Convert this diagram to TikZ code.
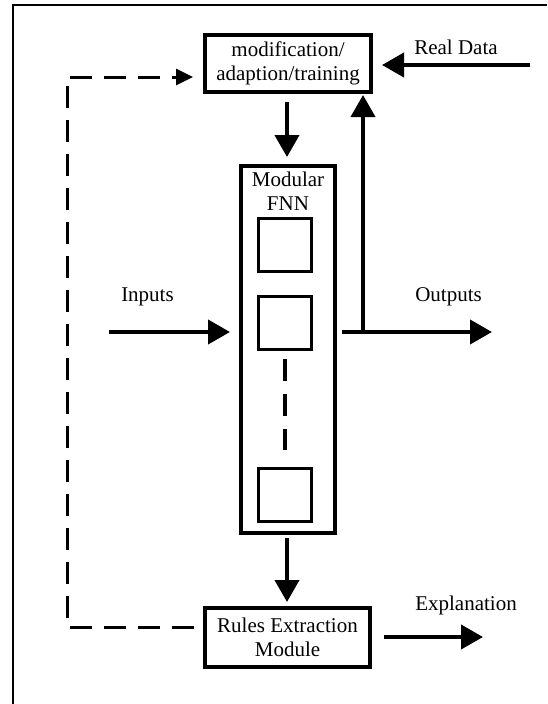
\documentclass[tikz,border=0pt]{standalone}
\usepackage{fontspec}
\setmainfont{Liberation Serif}
\usetikzlibrary{arrows.meta}
\begin{document}
\begin{tikzpicture}[x=1pt,y=-1pt,
  txt/.style={font=\fontsize{21}{24}\selectfont, align=center, inner sep=0pt},
  bigbox/.style={draw, line width=4pt, inner sep=0pt, txt},
  modbox/.style={draw, line width=3pt, minimum width=53pt, minimum height=53pt, inner sep=0pt},
  arr/.style={line width=4pt, -{Triangle[length=22pt,width=24pt]}},
  darr/.style={line width=3pt, dash pattern=on 22pt off 12pt, -{Triangle[length=17pt,width=16pt]}}
]
\useasboundingbox (0,0) rectangle (547,704);
% frame
\draw[line width=2.2pt] (13,704) -- (13,5) -- (547,5);
% nodes
\node[bigbox, minimum width=166pt, minimum height=57pt] (train) at (288,63.5) {modification/\\adaption/training};
\node[bigbox, minimum width=94pt, minimum height=367pt] (fnn) at (288,349.5) {};
\node[txt] (fnnlabel) at (288,191) {Modular\\FNN};
\node[modbox] (m1) at (285,244.5) {};
\node[modbox] (m2) at (285,323) {};
\node[modbox] (m3) at (285,495) {};
\draw[line width=4pt, dash pattern=on 22pt off 13pt] (m2.south) ++(0,8) coordinate (d1) -- (d1 |- 0,450) coordinate (d2);
\node[bigbox, minimum width=165pt, minimum height=59pt] (rules) at (287.5,637.5) {Rules Extraction\\Module};
% labels
\node[txt] (lrd) at (456,47) {Real Data};
\node[txt] (lin) at (147.5,297) {Inputs};
\node[txt] (lout) at (448.5,297) {Outputs};
\node[txt] (lex) at (466,605) {Explanation};
% coordinates
\coordinate (rd) at (530,65);
\coordinate (in) at (109,332);
\coordinate (out) at (492,332);
\coordinate (jn) at (363,332);
\coordinate (ex) at (483,637);
\coordinate (c1) at (67,627);
\coordinate (c2) at (67,77);
% arrows
\draw[arr, shorten <=8pt, shorten >=7pt] (train.south -| 287,0) -- (fnn.north -| 287,0);
\draw[arr, shorten <=3pt, shorten >=4pt] (fnn.south -| 287,0) -- (rules.north -| 287,0);
\draw[arr, shorten >=9pt] (rd) -- (rd -| train.east);
\draw[arr, shorten >=9pt] (in) -- (in -| fnn.west);
\draw[line width=4pt, -{Triangle[length=22pt,width=24pt]}, shorten <=5pt] (fnn.east |- out) -- (out);
\draw[arr, shorten >=1pt] (jn) -- (jn |- train.south);
\draw[arr, shorten <=12pt] (rules.east |- ex) -- (ex);
\draw[darr, shorten <=9pt, shorten >=10pt] (rules.west |- c1) -- (c1) -- (c2) -- (c2 -| train.west);
\end{tikzpicture}
\end{document}
